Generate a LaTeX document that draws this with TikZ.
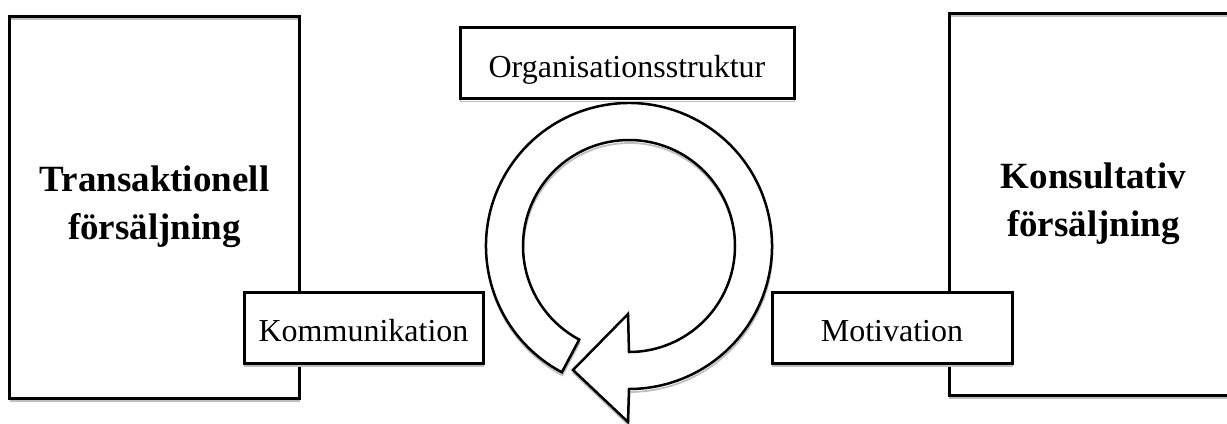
\documentclass[tikz,border=0pt]{standalone}
\usepackage{fontspec}
\setmainfont{Liberation Serif}
\usepackage{tikz}

\tikzset{
  shade line/.style={preaction={draw=gray!50,line width=1.8bp,transform canvas={shift={(0.5bp,-3bp)}}}},
  bigbox/.style={draw,line width=3bp,shade line,inner sep=0pt,
    minimum width=289bp,minimum height=382bp,align=center,
    font=\fontsize{37bp}{48bp}\selectfont\bfseries},
  tagbox/.style={draw,fill=white,line width=3bp,shade line,inner sep=0pt,
    minimum height=71bp,text height=49bp,text depth=21bp,
    font=\fontsize{32bp}{38bp}\selectfont},
  ring/.style={draw,fill=white,line width=2.5bp,line join=miter,shade line}
}

\begin{document}
\begin{tikzpicture}[x=1bp,y=-1bp]
  \useasboundingbox (0,0) rectangle (1227,423);
  % the two kinds of selling
  \node[bigbox] (trans) at (154.5,207) {Transaktionell\\försäljning};
  \node[bigbox] (konsult) at (1093.5,204) {Konsultativ\\försäljning};
  % circular arrow
  \coordinate (c) at (629,246);
  \draw[ring] ([shift={(118:143)}]c) arc[start angle=118,end angle=450,radius=143]
    -- (628,422) -- (573,370) -- (628,314)
    -- ([shift={(90:106)}]c) arc[start angle=450,end angle=118,radius=106] -- cycle;
  % factors
  \node[tagbox,minimum width=334bp] (org) at (627,63) {Organisationsstruktur};
  \node[tagbox,minimum width=239bp] (komm) at (363.5,327.5) {Kommunikation};
  \node[tagbox,minimum width=240bp] (motiv) at (892,327.5) {Motivation};
\end{tikzpicture}
\end{document}
